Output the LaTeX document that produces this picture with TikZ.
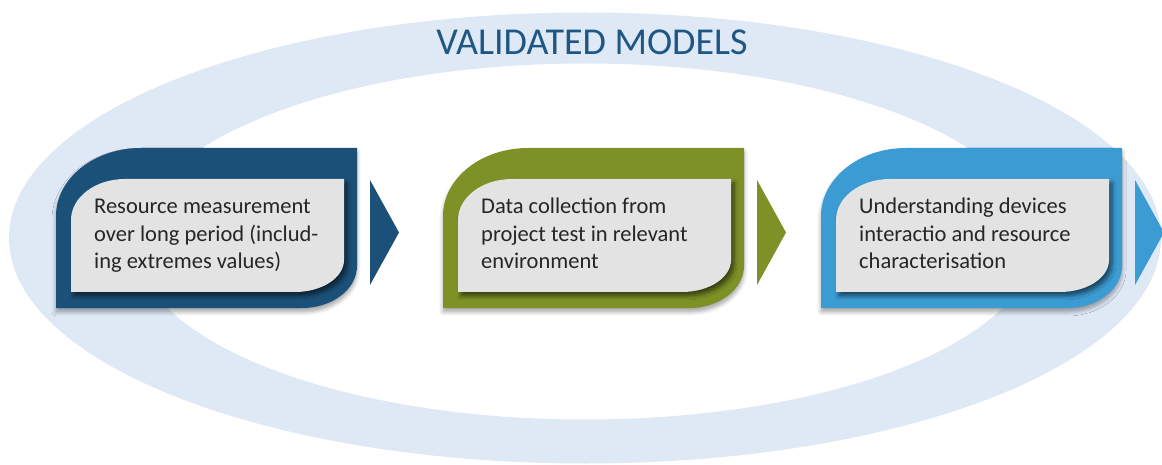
\documentclass[tikz,border=0pt]{standalone}
\usepackage{fontspec}
\setmainfont{Carlito}
\usetikzlibrary{shadows.blur}
\definecolor{ringc}{RGB}{223,232,245}
\definecolor{darkblue}{RGB}{27,80,120}
\definecolor{olive}{RGB}{125,145,39}
\definecolor{lightblue}{RGB}{59,155,211}
\definecolor{boxgray}{RGB}{227,227,227}
\definecolor{txt}{RGB}{38,38,38}
\definecolor{titlec}{RGB}{30,87,132}
\tikzset{
  outerbox/.style={fill=#1, blur shadow={shadow xshift=0pt, shadow yshift=-4pt, shadow opacity=35, shadow blur steps=6, shadow blur radius=4pt}},
  innerbox/.style={fill=boxgray, blur shadow={shadow xshift=3pt, shadow yshift=-4pt, shadow opacity=55, shadow blur steps=6, shadow blur radius=4pt}},
  chevron/.style={fill=#1},
  steptext/.style={anchor=base west, align=left, inner sep=0pt, font=\fontsize{22.5}{27.7}\selectfont, text=txt},
  titletext/.style={anchor=base, inner sep=0pt, font=\fontsize{38}{45}\selectfont, text=titlec}
}
\newcommand\drawstep[4]{%
  \begin{scope}[xshift=#1]
    \path[outerbox=#2] (0,156) -- (0,248) arc[start angle=180,end angle=90,x radius=85,y radius=68] -- (301,316) -- (301,198) arc[start angle=0,end angle=-90,x radius=55,y radius=42] -- cycle;
    \path[innerbox] (15,172) -- (15,244) arc[start angle=180,end angle=90,x radius=54,y radius=41] -- (288,285) -- (288,204) arc[start angle=0,end angle=-90,x radius=49,y radius=32] -- cycle;
    \path[chevron=#2] (314,284) -- (343,231.5) -- (314,179) -- cycle;
    \node[steptext] (#3) at (38,195) {#4};
  \end{scope}}
\begin{document}
\begin{tikzpicture}[x=1pt,y=1pt]
\useasboundingbox (0,0) rectangle (1162,464);
\fill[ringc, even odd rule] (585,226) ellipse [x radius=576, y radius=225.5] (585,222.5) ellipse [x radius=450, y radius=178];
\node[titletext] (title) at (592,409) {VALIDATED MODELS};
\drawstep{56pt}{darkblue}{s1}{Resource measurement\\over long period (includ-\\ing extremes values)}
\drawstep{443pt}{olive}{s2}{Data collection from\\project test in relevant\\environment}
\drawstep{821pt}{lightblue}{s3}{Understanding devices\\interactio and resource\\characterisation}
\end{tikzpicture}
\end{document}
